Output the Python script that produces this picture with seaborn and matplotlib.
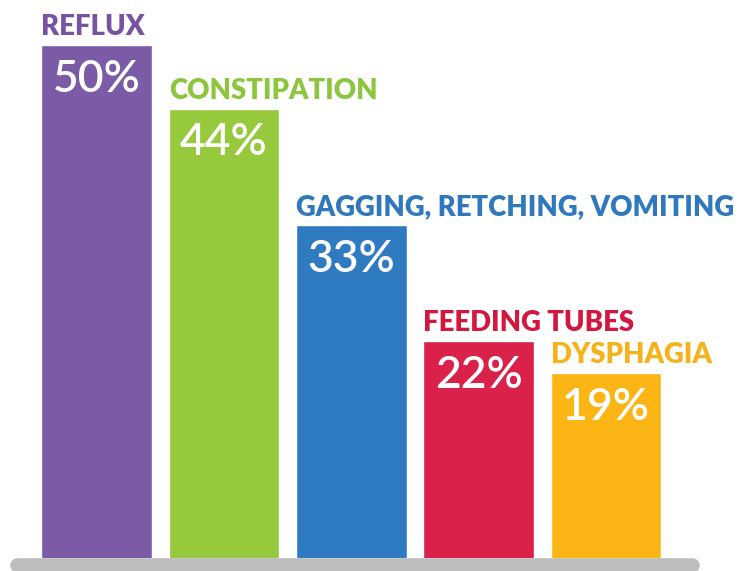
import matplotlib
matplotlib.use("Agg")
import matplotlib.pyplot as plt
import seaborn as sns
import pandas as pd
from matplotlib.lines import Line2D

# --- Data ---
categories = ["REFLUX", "CONSTIPATION", "GAGGING, RETCHING, VOMITING", "FEEDING TUBES", "DYSPHAGIA"]
percentages = [50, 44, 33, 22, 19]
bar_colors = ["#7b5aa6", "#97c93d", "#2e7bc1", "#d9214a", "#fbb616"]
label_colors = ["#7654a3", "#8cc63f", "#2f78bd", "#d3173f", "#f6b21a"]

df = pd.DataFrame({"category": categories, "pct": percentages})

sns.set_theme(style="white")
plt.rcParams["font.family"] = ["Lato", "DejaVu Sans"]

fig = plt.figure(figsize=(7.46, 5.71), dpi=100)
ax = fig.add_axes([0, 0.0228, 1, 0.977])

sns.barplot(data=df, x="category", y="pct", hue="category", palette=bar_colors,
            order=categories, width=0.87, legend=False, ax=ax, saturation=1)

ax.set_xlim(-0.76, 5.1)
ax.set_ylim(1.5, 54.25)
ax.axis("off")

# --- Labels ---
for i, (cat, val) in enumerate(zip(categories, percentages)):
    left = i - 0.435
    ax.annotate(cat, xy=(left, val), xytext=(0, 7), textcoords="offset points",
                ha="left", va="baseline", fontsize=19.8, fontweight="heavy",
                color=label_colors[i], annotation_clip=False)
    ax.annotate(f"{val}%", xy=(i, val), xytext=(0, -10), textcoords="offset points",
                ha="center", va="top", fontsize=32, fontweight="semibold",
                color="white")

# --- Grey base ---
fig.add_artist(Line2D([17 / 746, 692 / 746], [6 / 571, 6 / 571], transform=fig.transFigure,
                      color="#bdbdbd", linewidth=10.5, solid_capstyle="round"))

fig.savefig("out.png", dpi=100)
